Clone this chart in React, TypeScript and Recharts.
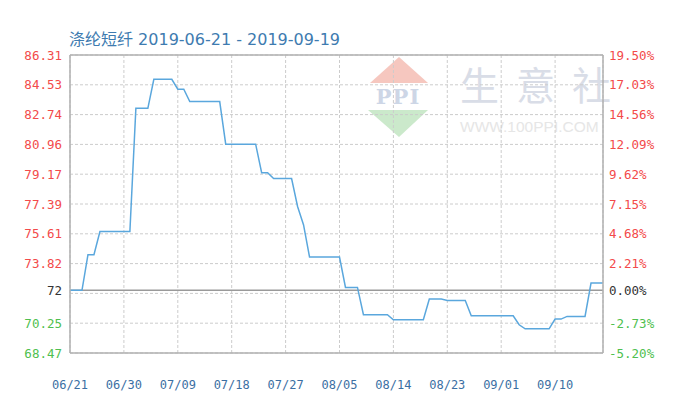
import React from 'react';
import { LineChart, Line, XAxis, YAxis, CartesianGrid, ReferenceLine } from 'recharts';

const titleText = '涤纶短纤 2019-06-21 - 2019-09-19';
const basePrice = 72;

const dayTicks = [0, 9, 18, 27, 36, 45, 54, 63, 72, 81];
const dayLabels = ['06/21', '06/30', '07/09', '07/18', '07/27', '08/05', '08/14', '08/23', '09/01', '09/10'];

const prices = [
  72.0, 72.0, 72.0, 74.12, 74.12, 75.51, 75.51, 75.51, 75.51, 75.51,
  75.51, 82.86, 82.86, 82.86, 84.59, 84.59, 84.59, 84.59, 84.0, 84.0,
  83.26, 83.26, 83.26, 83.26, 83.26, 83.26, 80.72, 80.72, 80.72, 80.72,
  80.72, 80.72, 79.02, 79.02, 78.67, 78.67, 78.67, 78.67, 77.0, 75.9,
  73.98, 73.98, 73.98, 73.98, 73.98, 73.98, 72.17, 72.17, 72.17, 70.54,
  70.54, 70.54, 70.54, 70.54, 70.24, 70.24, 70.24, 70.24, 70.24, 70.24,
  71.48, 71.48, 71.48, 71.39, 71.39, 71.39, 71.39, 70.48, 70.48, 70.48,
  70.48, 70.48, 70.48, 70.48, 70.48, 69.94, 69.7, 69.7, 69.7, 69.7,
  69.7, 70.28, 70.28, 70.44, 70.44, 70.44, 70.44, 72.43, 72.43, 72.43,
];

const pctTicks = [-5.2, -2.73, 0, 2.21, 4.68, 7.15, 9.62, 12.09, 14.56, 17.03, 19.5];
const leftTickLabels = ['68.47', '70.25', '72', '73.82', '75.61', '77.39', '79.17', '80.96', '82.74', '84.53', '86.31'];
const rightTickLabels = ['-5.20%', '-2.73%', '0.00%', '2.21%', '4.68%', '7.15%', '9.62%', '12.09%', '14.56%', '17.03%', '19.50%'];
const gridValues = [-5.2, -2.73, -0.26, 2.21, 4.68, 7.15, 9.62, 12.09, 14.56, 17.03, 19.5];

const watermarkChars = ['生', '意', '社'];

const data = prices.map((p, i) => ({ day: i, pct: (p / basePrice - 1) * 100 }));

const RED = '#f34a4a';
const GREEN = '#4fbf4f';
const BLACK = '#333333';
const MONO = '"DejaVu Sans Mono", monospace';

const colorFor = (v: number) => (v > 0 ? RED : v < 0 ? GREEN : BLACK);

const LeftTick = (props: any) => {
  const { x, y, payload } = props;
  const idx = pctTicks.indexOf(payload.value);
  return (
    <text x={x} y={y} dy="0.36em" textAnchor="end" fill={colorFor(payload.value)} fontFamily={MONO} fontSize={12.5}>
      {leftTickLabels[idx]}
    </text>
  );
};

const RightTick = (props: any) => {
  const { x, y, payload } = props;
  const idx = pctTicks.indexOf(payload.value);
  return (
    <text x={x} y={y} dy="0.36em" textAnchor="start" fill={colorFor(payload.value)} fontFamily={MONO} fontSize={12.5}>
      {rightTickLabels[idx]}
    </text>
  );
};

export default function App() {
  return (
    <div style={{ position: 'absolute', left: 0, top: 0, width: 678, height: 414, background: '#ffffff', overflow: 'hidden' }}>
      {/* watermark */}
      <svg style={{ position: 'absolute', left: 0, top: 0 }} width={678} height={414}>
        <polygon points="370,83 399,57 428,83" fill="#f6c7bf" />
        <polygon points="368,110 399,137 428,110" fill="#cbe9cb" />
        <text x={398} y={104} textAnchor="middle" fontFamily='"DejaVu Serif", serif' fontWeight="bold" fontSize={21} fill="#cdd6e6" letterSpacing={1}>PPI</text>
        {watermarkChars.map((c, i) => (
          <text key={c} x={460 + i * 56} y={100} fontFamily='"Noto Sans CJK SC", sans-serif' fontSize={39} fill="#d9dde7">
            {c}
          </text>
        ))}
        <text x={460} y={132} fontFamily='"Liberation Sans", Arial, sans-serif' fontSize={15.5} fill="#e6e6e6">WWW.100PPI.COM</text>
      </svg>
      <div
        style={{
          position: 'absolute',
          left: 69,
          top: 26,
          fontFamily: '"DejaVu Sans", "Noto Sans CJK SC", sans-serif',
          fontSize: 16,
          color: '#3e7bb0',
          whiteSpace: 'nowrap',
        }}
      >
        {titleText}
      </div>
      <div style={{ position: 'absolute', left: 0, top: 0 }}>
        <LineChart width={678} height={414} data={data} margin={{ top: 55, right: 0, bottom: 31, left: 0 }}>
          <CartesianGrid horizontal={false} vertical={true} stroke="#cccccc" strokeDasharray="3 2" />
          {gridValues.map((g) => (
            <ReferenceLine key={g} yAxisId="right" y={g} stroke="#cccccc" strokeDasharray="3 2" />
          ))}
          <XAxis
            dataKey="day"
            type="number"
            domain={[0, 89]}
            ticks={dayTicks}
            tickFormatter={(v: number) => dayLabels[dayTicks.indexOf(v)]}
            tick={{ fill: '#3b6fa3', fontFamily: MONO, fontSize: 12 }}
            tickLine={false}
            tickSize={0}
            tickMargin={27}
            axisLine={{ stroke: '#b0b0b0', strokeWidth: 1.5 }}
            height={30}
            interval={0}
          />
          <YAxis
            yAxisId="left"
            orientation="left"
            domain={[-5.2, 19.5]}
            ticks={pctTicks}
            tick={<LeftTick />}
            tickLine={false}
            tickSize={0}
            tickMargin={8}
            axisLine={{ stroke: '#b0b0b0', strokeWidth: 1.5 }}
            width={70}
            interval={0}
            allowDataOverflow
          />
          <YAxis
            yAxisId="right"
            orientation="right"
            domain={[-5.2, 19.5]}
            ticks={pctTicks}
            tick={<RightTick />}
            tickLine={false}
            tickSize={0}
            tickMargin={6}
            axisLine={{ stroke: '#b0b0b0', strokeWidth: 1.5 }}
            width={75}
            interval={0}
            allowDataOverflow
          />
          <ReferenceLine yAxisId="right" y={19.5} stroke="#b0b0b0" strokeWidth={1.5} />
          <ReferenceLine yAxisId="right" y={0} stroke="#9a9a9a" strokeWidth={1.5} />
          <Line
            yAxisId="right"
            dataKey="pct"
            type="linear"
            stroke="#5aa7dd"
            strokeWidth={1.5}
            dot={false}
            activeDot={false}
            isAnimationActive={false}
          />
        </LineChart>
      </div>
    </div>
  );
}
